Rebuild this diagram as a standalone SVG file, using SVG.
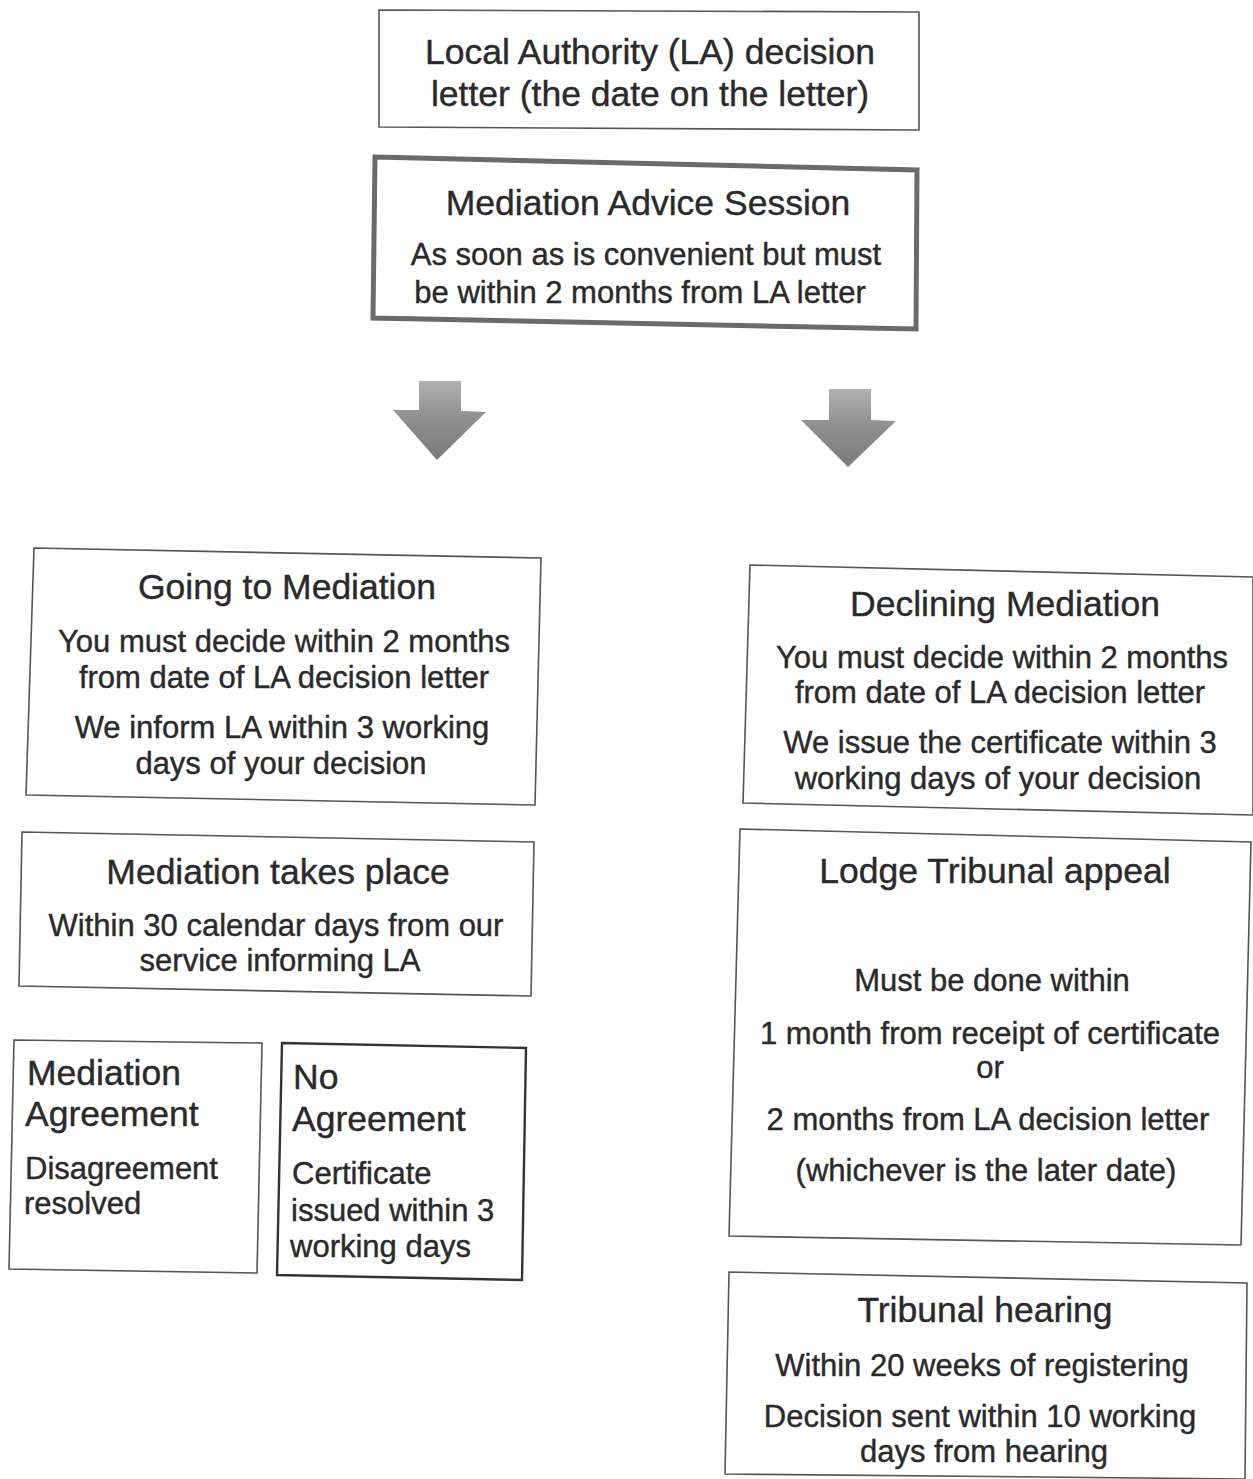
<svg xmlns="http://www.w3.org/2000/svg" width="1253" height="1479" viewBox="0 0 1253 1479">
<style>
text{font-family:"Liberation Sans",Arial,sans-serif;fill:#2a2a2a;stroke:#2a2a2a;stroke-width:0.4}
.t{font-size:35.5px;text-anchor:middle}
.b{font-size:31px;text-anchor:middle}
.l{font-size:35.5px}
.lb{font-size:31px}
.box{fill:#fff;stroke:#555;stroke-width:1.6}
.dark{stroke:#333;stroke-width:2.4}
.thick{fill:#fff;stroke:#6a6a6a;stroke-width:5}
.arrow{fill:url(#ag)}
</style>
<defs>
<linearGradient id="ag" x1="0" y1="0" x2="0" y2="1">
<stop offset="0" stop-color="#b0b0b0"/>
<stop offset="0.5" stop-color="#8e8e8e"/>
<stop offset="1" stop-color="#7a7a7a"/>
</linearGradient>
</defs>
<rect width="1253" height="1479" fill="#fff"/>
<g id="la-letter">
<polygon class="box" points="379,10 919,12 919,130 379,127"/>
<text class="t" x="650" y="64">Local Authority (LA) decision</text>
<text class="t" x="650" y="106">letter (the date on the letter)</text>
</g>
<g id="advice-session">
<polygon class="thick" points="375,157 917,170 916,329 373,318"/>
<text class="t" x="648" y="215">Mediation Advice Session</text>
<text class="b" x="646" y="265">As soon as is convenient but must</text>
<text class="b" x="640" y="303">be within 2 months from LA letter</text>
</g>
<g id="connectors">
<polygon class="arrow" points="419,381 461,381 461,411 486,412 437,460 393,410 419,410"/>
<polygon class="arrow" points="829,389 871,389 871,420 896,421 848,467 801,420 829,420"/>
</g>
<g id="going-to-mediation">
<polygon class="box" points="34,548 541,558 535,805 26,795"/>
<text class="t" x="287" y="599">Going to Mediation</text>
<text class="b" x="284" y="652">You must decide within 2 months</text>
<text class="b" x="284" y="688">from date of LA decision letter</text>
<text class="b" x="282" y="738">We inform LA within 3 working</text>
<text class="b" x="281" y="774">days of your decision</text>
</g>
<g id="mediation-takes-place">
<polygon class="box" points="22,832 534,842 531,996 19,986"/>
<text class="t" x="278" y="884">Mediation takes place</text>
<text class="b" x="276" y="936">Within 30 calendar days from our</text>
<text class="b" x="280" y="971">service informing LA</text>
</g>
<g id="mediation-agreement">
<polygon class="box" points="14,1040 262,1043 257,1273 9,1269"/>
<text class="l" x="27" y="1085">Mediation</text>
<text class="l" x="25" y="1126">Agreement</text>
<text class="lb" x="25" y="1179">Disagreement</text>
<text class="lb" x="24" y="1214">resolved</text>
</g>
<g id="no-agreement">
<polygon class="box dark" points="282,1043 526,1048 522,1280 277,1275"/>
<text class="l" x="293" y="1089">No</text>
<text class="l" x="292" y="1131">Agreement</text>
<text class="lb" x="292" y="1184">Certificate</text>
<text class="lb" x="291" y="1221">issued within 3</text>
<text class="lb" x="290" y="1257">working days</text>
</g>
<g id="declining-mediation">
<polygon class="box" points="750,565 1253,577 1253,815 743,803"/>
<text class="t" x="1005" y="616">Declining Mediation</text>
<text class="b" x="1002" y="668">You must decide within 2 months</text>
<text class="b" x="1000" y="703">from date of LA decision letter</text>
<text class="b" x="1000" y="753">We issue the certificate within 3</text>
<text class="b" x="998" y="789">working days of your decision</text>
</g>
<g id="lodge-appeal">
<polygon class="box" points="740,829 1251,842 1241,1245 729,1236"/>
<text class="t" x="995" y="883">Lodge Tribunal appeal</text>
<text class="b" x="992" y="991">Must be done within</text>
<text class="b" x="990" y="1044">1 month from receipt of certificate</text>
<text class="b" x="990" y="1078">or</text>
<text class="b" x="988" y="1130">2 months from LA decision letter</text>
<text class="b" x="986" y="1181">(whichever is the later date)</text>
</g>
<g id="tribunal-hearing">
<polygon class="box" points="729,1272 1247,1283 1245,1479 725,1474"/>
<text class="t" x="985" y="1322">Tribunal hearing</text>
<text class="b" x="982" y="1376">Within 20 weeks of registering</text>
<text class="b" x="980" y="1427">Decision sent within 10 working</text>
<text class="b" x="984" y="1462">days from hearing</text>
</g>
</svg>
